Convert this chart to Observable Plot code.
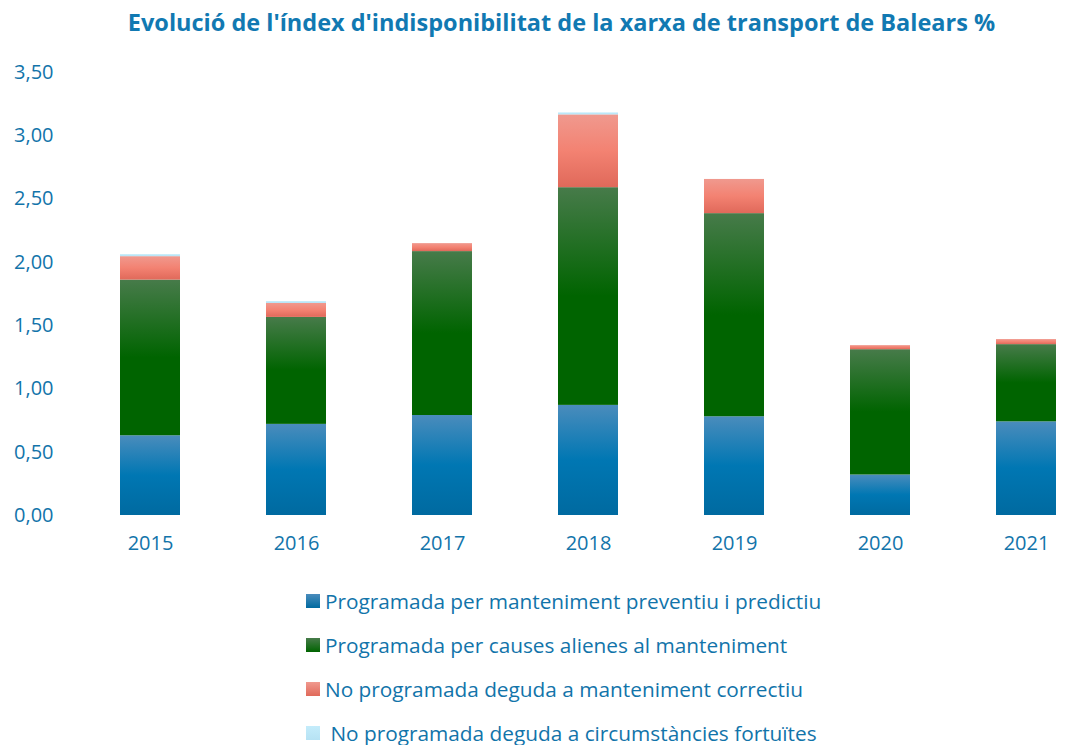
<!DOCTYPE html>
<html>
<head>
<meta charset="utf-8">
<script src="https://cdn.jsdelivr.net/npm/d3@7"></script>
<script src="https://cdn.jsdelivr.net/npm/@observablehq/plot@0.6"></script>
<style>
  body { margin: 0; background: #fff; font-family: "Open Sans", Lato, sans-serif; width: 1089px; overflow: hidden; }
  #title { height: 45px; line-height: 44px; text-align: center; font-weight: bold; font-size: 23.5px; color: #1179b2; padding-left: 34px; white-space: nowrap; }
  #legend { padding-top: 4px; }
  .row { height: 44px; display: flex; align-items: center; padding-left: 306px; font-size: 20.8px; color: #1274aa; white-space: nowrap; }
  .sw { width: 14px; height: 14px; margin-right: 5px; }
</style>
</head>
<body>
<div id="title">Evolució de l'índex d'indisponibilitat de la xarxa de transport de Balears %</div>
<div id="chart"></div>
<div id="legend"></div>
<script>
const years = ["2015", "2016", "2017", "2018", "2019", "2020", "2021"];
const seriesNames = [
  "Programada per manteniment preventiu i predictiu",
  "Programada per causes alienes al manteniment",
  "No programada deguda a manteniment correctiu",
  "No programada deguda a circumstàncies fortuïtes"
];
const preventiu = [0.63, 0.72, 0.79, 0.87, 0.78, 0.32, 0.74];
const alienes   = [1.23, 0.845, 1.295, 1.72, 1.605, 0.99, 0.61];
const correctiu = [0.185, 0.11, 0.063, 0.575, 0.27, 0.032, 0.04];
const fortuites = [0.016, 0.015, 0.0, 0.016, 0.0, 0.0, 0.0];
const yTicks = [0, 0.5, 1, 1.5, 2, 2.5, 3, 3.5];

const gradients = [
  {id: "g0", stops: ["#4a8cbc", "#0077b3", "#006aa0"]},
  {id: "g1", stops: ["#477b4a", "#006400", "#006400"]},
  {id: "g2", stops: ["#f0998e", "#f38272", "#e0695a"]},
  {id: "g3", stops: ["#c4ecfb", "#bde8f8", "#b6e2f4"]}
];

const allSeries = [preventiu, alienes, correctiu, fortuites];
const data = [];
seriesNames.forEach((s, i) => {
  years.forEach((y, j) => data.push({year: y, series: s, value: allSeries[i][j]}));
});

const fmt = d => d.toFixed(2).replace(".", ",");

const chart = Plot.plot({
  width: 1089,
  height: 530,
  marginTop: 27,
  marginBottom: 60,
  marginLeft: 76,
  marginRight: 0,
  style: {fontFamily: "'Open Sans', Lato, sans-serif", fontSize: "20px", color: "#1274aa", background: "white"},
  x: {domain: years, range: [76, 1100], paddingInner: 0.59, paddingOuter: 0.295, label: null},
  y: {domain: [0, 3.5], label: null},
  color: {type: "ordinal", domain: seriesNames, range: gradients.map(g => `url(#${g.id})`)},
  marks: [
    Plot.ruleY(yTicks, {x1: 77, x2: 1100, stroke: "#cfeefb", strokeWidth: 2}),
    Plot.barY(data, {x: "year", y: "value", fill: "series", order: null}),
    Plot.axisY({ticks: yTicks, tickFormat: fmt, tickSize: 0, tickPadding: 23, fontSize: 20, label: null}),
    Plot.axisX({tickSize: 0, tickPadding: 20, fontSize: 20, label: null})
  ]
});

const svg = d3.select(chart);
const defs = svg.insert("defs", ":first-child");
gradients.forEach(g => {
  const lg = defs.append("linearGradient").attr("id", g.id)
    .attr("x1", 0).attr("y1", 0).attr("x2", 0).attr("y2", 1);
  lg.append("stop").attr("offset", "0%").attr("stop-color", g.stops[0]);
  lg.append("stop").attr("offset", "50%").attr("stop-color", g.stops[1]);
  lg.append("stop").attr("offset", "100%").attr("stop-color", g.stops[2]);
});
document.getElementById("chart").appendChild(chart);

const legend = document.getElementById("legend");
seriesNames.forEach((s, i) => {
  const row = document.createElement("div");
  row.className = "row";
  const sw = document.createElement("div");
  sw.className = "sw";
  sw.style.background = `linear-gradient(${gradients[i].stops[0]}, ${gradients[i].stops[2]})`;
  row.appendChild(sw);
  const t = document.createElement("span");
  t.textContent = (i === 3 ? "\u00a0" : "") + s;
  row.appendChild(t);
  legend.appendChild(row);
});
</script>
</body>
</html>
